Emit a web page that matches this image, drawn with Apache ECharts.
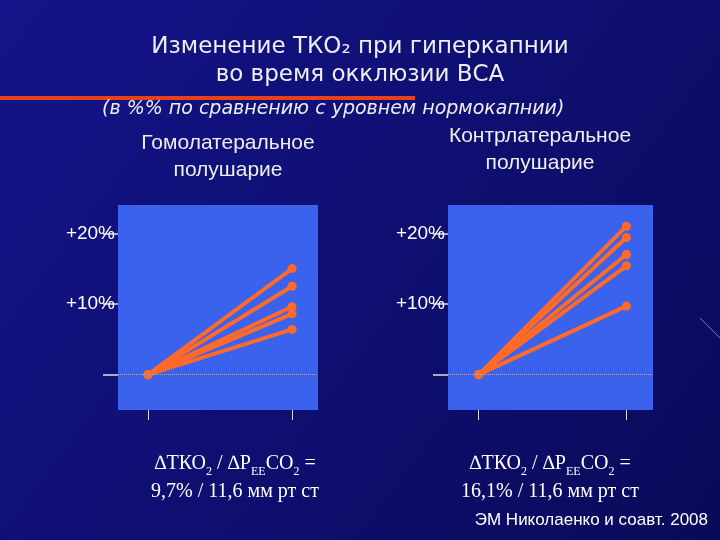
<!DOCTYPE html><html><head><meta charset="utf-8"><script src="https://cdn.jsdelivr.net/npm/echarts@6/dist/echarts.min.js"></script></head><body style="margin:0"><div id="c" style="width:720px;height:540px"></div><script>
const leftEnds=[15.0,12.5,9.6,8.6,6.4];
const rightEnds=[21.0,19.4,17.0,15.4,9.7];
const tickVals=[0,10,20];
const tickLabels=['','+10%','+20%'];
const ch=echarts.init(document.getElementById('c'));
const orange='#ff6a2a';
function ser(ends,i){return ends.map(v=>({type:'line',xAxisIndex:i,yAxisIndex:i,data:[[0,0],[1,v]],symbol:'circle',symbolSize:9,lineStyle:{color:orange,width:4},itemStyle:{color:orange},silent:true}));}
const grids=[{left:118,top:205,width:200,height:205},{left:448,top:205,width:205,height:205}];
const xA=grids.map((g,i)=>({type:'value',gridIndex:i,min:-0.208,max:1.18,splitLine:{show:false},axisLine:{show:false,onZero:false},axisLabel:{show:false},axisTick:{show:true,customValues:[0,1],length:10,lineStyle:{color:'#ddd'}}}));
const yA=grids.map((g,i)=>({type:'value',gridIndex:i,min:-5,max:24,splitLine:{show:false},axisLine:{show:false,onZero:false},
 axisTick:{show:true,customValues:tickVals,length:15,lineStyle:{color:'#ddd',width:1.5}},
 axisLabel:{customValues:tickVals,formatter:v=>tickLabels[tickVals.indexOf(v)],color:'#fff',fontSize:19,fontFamily:'Liberation Sans',margin:3}}));
const s=[...ser(leftEnds,0),...ser(rightEnds,1)];
[0,1].forEach(i=>s.push({type:'line',xAxisIndex:i,yAxisIndex:i,data:[],markLine:{silent:true,symbol:'none',label:{show:false},lineStyle:{color:'#aab',type:'dotted',width:1},data:[{yAxis:0}]}}));
const rich={s:{fontSize:12,fontFamily:'Liberation Serif',color:'#fff',verticalAlign:'bottom',padding:[8,0,0,0]}};
ch.setOption({
 backgroundColor:{type:'linear',x:0,y:0,x2:1,y2:1,colorStops:[{offset:0,color:'#14148a'},{offset:1,color:'#0a0a5a'}]},
 grid:grids.map(g=>Object.assign({show:true,backgroundColor:'#3a62ec',borderWidth:0},g)),
 xAxis:xA,yAxis:yA,series:s,
 graphic:[
  {type:'text',left:'center',top:36,style:{text:'Изменение ТКО₂ при гиперкапнии',fill:'#eee',font:'23px "DejaVu Sans"'}},
  {type:'text',left:'center',top:64,style:{text:'во время окклюзии ВСА',fill:'#eee',font:'23px "DejaVu Sans"'}},
  {type:'line',shape:{x1:0,y1:98,x2:415,y2:98},style:{stroke:'#e8401a',lineWidth:4}},
  {type:'text',left:102,top:100,style:{text:'(в %% по сравнению с уровнем нормокапнии)',fill:'#eee',font:'italic 19px "DejaVu Sans"'}},
  {type:'text',x:228,y:130,style:{text:'Гомолатеральное\nполушарие',fill:'#eee',font:'21px "Liberation Sans"',textAlign:'center',lineHeight:27}},
  {type:'text',x:540,y:123,style:{text:'Контрлатеральное\nполушарие',fill:'#eee',font:'21px "Liberation Sans"',textAlign:'center',lineHeight:27}},
  {type:'text',x:235,y:450,style:{text:'∆ТКО{s|2} / ∆Р{s|EE}СО{s|2} =\n9,7% / 11,6 мм рт ст',fill:'#fff',font:'20px "Liberation Serif"',textAlign:'center',lineHeight:28,rich}},
  {type:'text',x:550,y:450,style:{text:'∆ТКО{s|2} / ∆Р{s|EE}СО{s|2} =\n16,1% / 11,6 мм рт ст',fill:'#fff',font:'20px "Liberation Serif"',textAlign:'center',lineHeight:28,rich}},
  {type:'text',right:12,top:512,style:{text:'ЭМ Николаенко и соавт. 2008',fill:'#fff',font:'17px "Liberation Sans"'}},
  {type:'line',shape:{x1:700,y1:318,x2:720,y2:338},style:{stroke:'#7080c0',lineWidth:1}}
 ]});
</script></body></html>
